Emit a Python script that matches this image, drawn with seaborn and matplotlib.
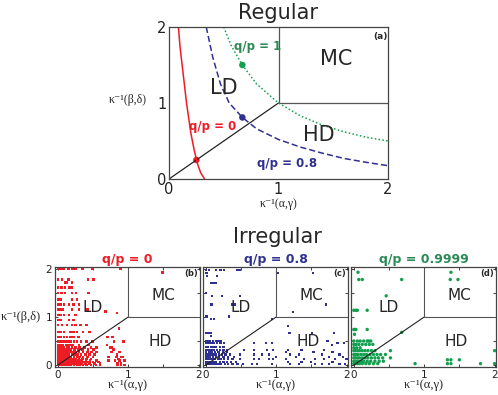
import matplotlib
matplotlib.use("Agg")
import matplotlib.pyplot as plt
import seaborn as sns
import pandas as pd

sns.set_style("ticks")
plt.rcParams['font.family'] = ['DejaVu Sans']

# ---- colours
red = '#ee1c25'
blue = '#2e3192'
green = '#12a04e'
green_txt = '#2b8a55'
lab_font = ['Liberation Serif', 'DejaVu Serif']

# ---- top panel: boundary curves
red_cx = [0.086, 0.10, 0.12, 0.14, 0.16, 0.18, 0.20, 0.23, 0.26, 0.29, 0.325]
red_cy = [2.0, 1.75, 1.5, 1.25, 1.0, 0.8, 0.6, 0.38, 0.2, 0.08, 0.0]
blue_cx = [0.34, 0.40, 0.47, 0.55, 0.67, 0.80, 1.0, 1.2, 1.4, 1.6, 1.8, 2.0]
blue_cy = [2.0, 1.6, 1.25, 1.0, 0.81, 0.66, 0.52, 0.42, 0.34, 0.27, 0.22, 0.175]
green_cx = [0.5, 0.57, 0.67, 0.8, 1.0, 1.2, 1.4, 1.6, 1.8, 2.0]
green_cy = [2.0, 1.75, 1.5, 1.25, 1.0, 0.83, 0.71, 0.62, 0.55, 0.5]
dot_x = [0.25, 0.67, 0.67]
dot_y = [0.25, 0.81, 1.5]

# ---- bottom panels: scatter points, grouped by row (y level -> x values)
red_rows_y = [2.0, 1.93, 1.78, 1.72, 1.61, 1.5, 1.36, 1.26, 1.15, 1.12, 1.08, 1.04,
              0.94, 0.83, 0.76, 0.69, 0.58, 0.49, 0.42, 0.37, 0.32, 0.27, 0.22,
              0.17, 0.13, 0.1, 0.06, 0.03, 0.0]
red_rows_x = [
    [0.0, 0.04, 0.08, 0.15, 0.21, 0.25, 0.35, 0.49, 0.89],
    [1.49],
    [0.0, 0.06, 0.15, 0.43, 0.51],
    [0.11, 0.13, 0.2],
    [0.0, 0.05, 0.1, 0.17, 0.2],
    [0.0, 0.05, 0.1, 0.2, 0.26, 0.44],
    [0.0, 0.04, 0.2, 0.27],
    [0.0, 0.04, 0.09, 0.16, 0.22, 0.3],
    [0.0, 0.02, 0.07, 0.2, 0.3, 0.42],
    [0.68],
    [0.84],
    [0.0, 0.04, 0.09, 0.16, 0.25],
    [0.0, 0.02, 0.04, 0.16, 0.22],
    [0.0, 0.06, 0.13, 0.2, 0.25, 0.32, 0.41],
    [0.87],
    [0.0, 0.04, 0.09, 0.18, 0.22, 0.27, 0.36, 0.45],
    [0.0, 0.04, 0.09, 0.13, 0.18, 0.22, 0.29, 0.71, 0.78],
    [0.0, 0.02, 0.05, 0.08, 0.11, 0.15, 0.19, 0.23, 0.27, 0.33, 0.41, 0.49, 0.8, 0.93],
    [0.0, 0.03, 0.07, 0.12, 0.17, 0.21, 0.3, 0.44, 0.7],
    [0.0, 0.02, 0.05, 0.09, 0.13, 0.16, 0.2, 0.25, 0.31, 0.38, 0.47, 0.55, 0.74, 0.77],
    [0.01, 0.04, 0.07, 0.11, 0.15, 0.19, 0.24, 0.29, 0.35, 0.43, 0.51, 0.79],
    [0.0, 0.02, 0.05, 0.08, 0.11, 0.14, 0.18, 0.22, 0.26, 0.3, 0.36, 0.42, 0.48, 0.55, 0.76, 0.88],
    [0.0, 0.03, 0.06, 0.09, 0.12, 0.16, 0.2, 0.24, 0.28, 0.33, 0.39, 0.45, 0.52, 0.84],
    [0.0, 0.02, 0.04, 0.07, 0.1, 0.13, 0.16, 0.19, 0.23, 0.27, 0.31, 0.36, 0.42, 0.5, 0.72, 0.83, 0.9, 0.92],
    [0.0, 0.03, 0.05, 0.08, 0.11, 0.14, 0.18, 0.22, 0.26, 0.3, 0.35, 0.41, 0.47, 0.86],
    [0.0, 0.02, 0.04, 0.06, 0.09, 0.12, 0.15, 0.18, 0.21, 0.25, 0.29, 0.34, 0.4, 0.46, 0.55, 0.72, 0.81, 0.88, 0.95],
    [0.0, 0.02, 0.04, 0.07, 0.1, 0.13, 0.16, 0.2, 0.24, 0.28, 0.32, 0.37, 0.43, 0.5, 0.58],
    [0.0, 0.01, 0.03, 0.05, 0.08, 0.11, 0.14, 0.17, 0.21, 0.25, 0.29, 0.34, 0.39, 0.45, 0.52, 0.6, 0.85, 0.9],
    [0.0, 0.02, 0.04, 0.06, 0.09, 0.12, 0.15, 0.19, 0.23, 0.27, 0.31, 0.36, 0.41, 0.47, 0.54, 0.6, 0.85, 0.9, 0.95],
]

blue_rows_y = [1.98, 1.92, 1.85, 1.71, 1.5, 1.43, 1.26, 1.1, 1.01, 0.96, 0.81, 0.67,
               0.6, 0.5, 0.46, 0.42, 0.37, 0.32, 0.27, 0.22, 0.17, 0.12, 0.07, 0.02]
blue_rows_x = [
    [0.0, 0.05, 0.14, 0.21, 0.26, 0.45, 0.49],
    [0.0, 0.02, 1.03, 1.52],
    [0.02, 0.16],
    [0.07, 0.09, 0.12, 0.14],
    [0.0],
    [0.09, 0.23, 0.49],
    [0.07, 0.09, 0.38, 0.42, 1.71],
    [1.24],
    [0.0, 0.02, 0.33],
    [0.07, 0.12, 0.94],
    [1.17],
    [0.0, 0.02, 0.04, 0.05, 0.07, 1.19, 1.51, 1.82],
    [0.07],
    [0.0, 0.03, 0.06, 0.1, 0.14, 0.18, 0.22, 1.73],
    [0.0, 0.02, 0.05, 0.08, 0.12, 0.16, 0.21, 0.26, 0.68, 0.85, 0.94, 1.87, 1.96],
    [1.79],
    [0.0, 0.03, 0.07, 0.11, 0.15, 0.2, 0.25],
    [0.0, 0.02, 0.05, 0.08, 0.12, 0.16, 0.2, 0.25, 0.3, 0.54, 0.68, 0.87, 0.96, 1.17, 1.36, 1.68],
    [0.0, 0.04, 0.08, 0.13, 0.18, 0.24, 0.3, 1.14, 1.53, 1.8],
    [0.0, 0.02, 0.05, 0.08, 0.11, 0.15, 0.19, 0.23, 0.28, 0.34, 0.49, 0.68, 0.8, 0.9, 1.2, 1.32, 1.65, 1.9],
    [0.0, 0.03, 0.06, 0.1, 0.14, 0.19, 0.25, 0.32, 0.4, 1.0, 1.28, 1.75, 1.95],
    [0.0, 0.02, 0.04, 0.07, 0.1, 0.13, 0.17, 0.21, 0.26, 0.32, 0.38, 0.49, 0.68, 0.75, 0.9, 0.96,
     1.14, 1.4, 1.55, 1.68, 1.83, 2.0],
    [0.0, 0.02, 0.05, 0.08, 0.11, 0.15, 0.2, 0.25, 0.3, 0.36, 0.43, 1.17, 1.36, 1.5, 1.8],
    [0.0, 0.01, 0.03, 0.05, 0.08, 0.11, 0.14, 0.18, 0.22, 0.27, 0.32, 0.38, 0.45, 0.53, 0.66, 0.73,
     0.94, 1.2, 1.32, 1.55, 1.65, 1.75, 1.9, 1.98],
]

green_rows_y = [1.93, 1.78, 1.44, 1.14, 0.74, 0.68, 0.64, 0.5, 0.43, 0.36, 0.3,
                0.22, 0.15, 0.11, 0.08, 0.03]
green_rows_x = [
    [0.06, 1.38],
    [0.07, 0.12, 0.68, 1.37, 1.48],
    [0.46],
    [0.0, 0.03, 0.05, 0.19],
    [0.0, 0.01, 0.03, 0.19],
    [0.68],
    [0.01],
    [0.0, 0.05, 0.09, 0.14, 0.19, 0.21, 0.24],
    [0.0, 0.03, 0.07, 0.12, 0.17, 0.22, 0.27],
    [0.0, 0.04, 0.09],
    [0.0, 0.02, 0.05, 0.08, 0.12, 0.16, 0.2, 0.25, 0.3, 0.52, 2.0],
    [0.0, 0.03, 0.06, 0.1, 0.14, 0.18, 0.23, 0.28, 0.33, 0.38, 0.45],
    [0.0, 0.02, 0.05, 0.08, 0.12, 0.16, 0.2, 0.25, 0.3, 0.35, 0.41, 0.52],
    [1.33, 1.38, 1.5],
    [0.0, 0.03, 0.06, 0.1, 0.14, 0.19, 0.24, 0.3, 0.36, 0.42],
    [0.0, 0.02, 0.05, 0.08, 0.12, 0.17, 0.22, 0.28, 0.34, 0.87, 1.33, 1.38, 1.8, 2.0],
]


def rows_to_df(ys, xs):
    return pd.DataFrame([(x, y) for y, row in zip(ys, xs) for x in row], columns=['x', 'y'])


def phase_lines(ax, lw):
    # LD / HD / MC boundaries
    sns.lineplot(x=[0, 1], y=[0, 1], color='#222222', lw=lw, ax=ax, estimator=None)
    sns.lineplot(x=[1, 1], y=[1, 2], color='#555555', lw=lw, ax=ax, estimator=None)
    sns.lineplot(x=[1, 2], y=[1, 1], color='#555555', lw=lw, ax=ax, estimator=None)


def style_ax(ax, size):
    ax.set_xticks([0, 0.5, 1, 1.5, 2])
    ax.set_yticks([0, 0.5, 1, 1.5, 2])
    ax.set_xticklabels(['0', '', '1', '', '2'])
    ax.set_yticklabels(['0', '', '1', '', '2'])
    ax.tick_params(direction='in', length=2, width=0.6, top=True, right=True,
                   labelsize=size, pad=2, colors='#222222')
    for s in ax.spines.values():
        s.set_color('#444444')
        s.set_linewidth(0.9)


fig = plt.figure(figsize=(4.98, 3.95), dpi=100)

# ================= Regular
ax = fig.add_axes([169 / 498, 1 - 179 / 395, 219 / 498, 152 / 395])
phase_lines(ax, 0.9)
sns.lineplot(x=red_cx, y=red_cy, sort=False, estimator=None, color=red, lw=1.1, ax=ax)
sns.lineplot(x=blue_cx, y=blue_cy, sort=False, estimator=None, color=blue, lw=1.1,
             ax=ax, dashes=False, linestyle=(0, (4, 2)))
sns.lineplot(x=green_cx, y=green_cy, sort=False, estimator=None, color=green, lw=1.1,
             ax=ax, linestyle=(0, (1, 1.5)))
sns.scatterplot(x=dot_x, y=dot_y, hue=['a', 'b', 'c'], palette=[red, blue, green],
                s=22, edgecolor='none', legend=False, ax=ax)
ax.set_xlim(0, 2)
ax.set_ylim(0, 2)
style_ax(ax, 10.5)
ax.tick_params(length=0)
ax.text(0.5, 1.2, 'LD', fontsize=15, ha='center', va='center')
ax.text(1.53, 1.58, 'MC', fontsize=15, ha='center', va='center')
ax.text(1.37, 0.58, 'HD', fontsize=15, ha='center', va='center')
ax.text(1.93, 1.88, '(a)', fontsize=6.5, ha='center', va='center', weight='bold')
ax.text(0.81, 1.74, 'q/p = 1', fontsize=8.5, color=green_txt, weight='bold', ha='center', va='center')
ax.text(0.4, 0.69, 'q/p = 0', fontsize=8.5, color=red, weight='bold', ha='center', va='center')
ax.text(1.08, 0.2, 'q/p = 0.8', fontsize=8.5, color=blue, weight='bold', ha='center', va='center')
ax.set_xlabel('κ⁻¹(α,γ)', fontsize=8.5, family=lab_font)
ax.xaxis.set_label_coords(0.5, -0.125)
ax.set_ylabel('κ⁻¹(β,δ)', fontsize=8.5, family=lab_font, rotation=0, ha='right', va='center')
ax.yaxis.set_label_coords(-0.1, 0.52)
fig.text(278 / 498, 1 - 13 / 395, 'Regular', fontsize=15, ha='center', va='center')

# ================= Irregular
fig.text(277 / 498, 1 - 237 / 395, 'Irregular', fontsize=15, ha='center', va='center')
panels = [
    (55, rows_to_df(red_rows_y, red_rows_x), red, red, 'q/p = 0', '(b)', 3.5),
    (203, rows_to_df(blue_rows_y, blue_rows_x), blue, blue, 'q/p = 0.8', '(c)', 2.5),
    (351, rows_to_df(green_rows_y, green_rows_x), green, green_txt, 'q/p = 0.9999', '(d)', 6),
]
for i, (left, df, col, tcol, ttl, tag, ms) in enumerate(panels):
    bx = fig.add_axes([left / 498, 1 - 367 / 395, 145 / 498, 100 / 395])
    phase_lines(bx, 0.8)
    sns.scatterplot(data=df, x='x', y='y', color=col, s=ms, marker='s' if i < 2 else 'o',
                    edgecolor='none', linewidth=0, ax=bx, clip_on=False)
    bx.set_xlim(-0.04, 2.02)
    bx.set_ylim(-0.04, 2.04)
    style_ax(bx, 7.5)
    bx.text(0.5, 1.2, 'LD', fontsize=11, ha='center', va='center')
    bx.text(1.5, 1.45, 'MC', fontsize=11, ha='center', va='center')
    bx.text(1.45, 0.5, 'HD', fontsize=11, ha='center', va='center')
    bx.text(1.9, 1.9, tag, fontsize=6, ha='center', va='center', weight='bold')
    bx.set_title(ttl, color=tcol, fontsize=9, weight='bold', pad=3)
    bx.set_xlabel('κ⁻¹(α,γ)', fontsize=9, family=lab_font)
    bx.xaxis.set_label_coords(0.5, -0.12)
    if i == 0:
        bx.set_ylabel('κ⁻¹(β,δ)', fontsize=9, family=lab_font, rotation=0, ha='right', va='center')
        bx.yaxis.set_label_coords(-0.1, 0.5)
    else:
        bx.set_ylabel('')
        bx.set_yticklabels([])

fig.savefig('out.png', dpi=100)
